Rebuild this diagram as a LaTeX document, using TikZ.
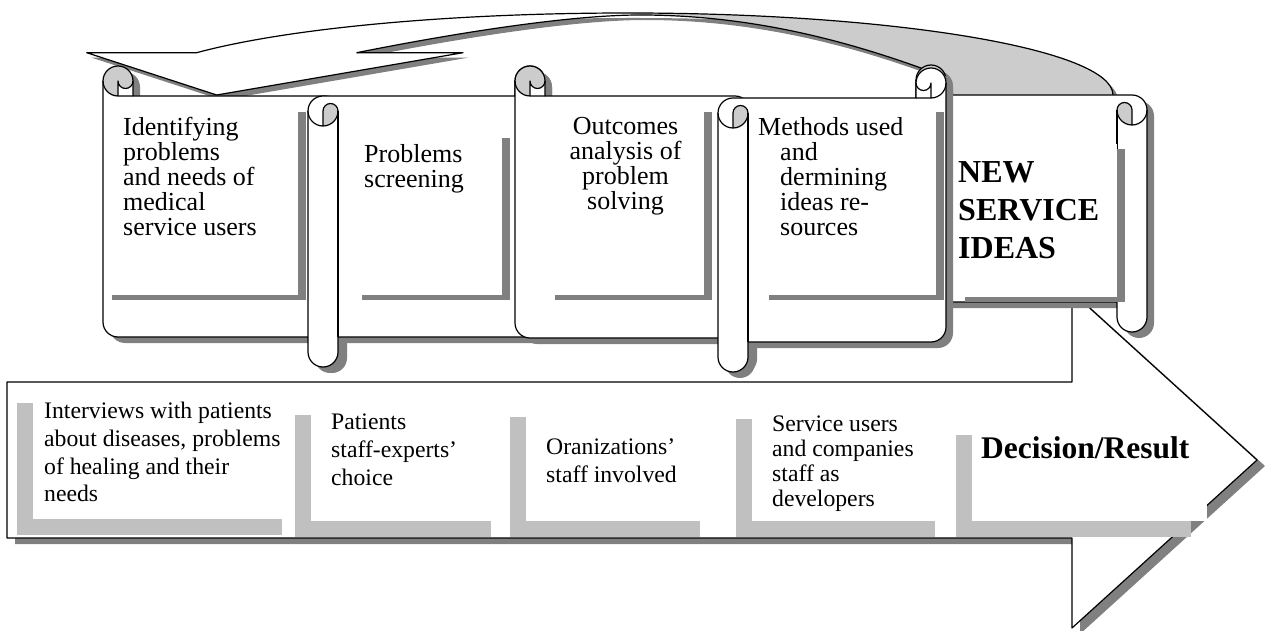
\documentclass[tikz,border=0pt]{standalone}
\usepackage{fontspec}
\setmainfont{Liberation Serif}

\definecolor{shadowgray}{HTML}{808080}
\definecolor{curlgray}{HTML}{CCCCCC}
\definecolor{panelgray}{HTML}{C0C0C0}

% outline of a horizontal scroll in local units, the long roll on the left
\newcommand{\scrollpath}{(0,45) arc[start angle=180, end angle=270, radius=15]
  -- (\rsw-30,30) -- (\rsw-30,15) arc[start angle=180, end angle=360, radius=15]
  -- (\rsw,\rsh-45) arc[start angle=0, end angle=90, radius=15]
  -- (30,\rsh-30) -- (30,\rsh-15) arc[start angle=0, end angle=180, radius=15] -- cycle}

% #1 = 1 or -1 (mirrored), #2 = x of the roll side, #3 = top, #4 = width, #5 = height, #6 = fill of top curl
\newcommand{\rollscroll}[6]{%
  \pgfmathsetmacro{\rsw}{#4}%
  \pgfmathsetmacro{\rsh}{#5}%
  \begin{scope}[shift={(#2,#3)}, xscale=#1]
    \fill[shadowgray, shift={(7*#1,6)}] \scrollpath;
    \fill[white] \scrollpath;
    %% top curl
    \fill[#6] (\rsw-15,30) arc[start angle=90, end angle=-180, radius=15]
      arc[start angle=180, end angle=0, radius=7.5] -- cycle;
    %% curl of the long roll
    \fill[curlgray] (15,60) arc[start angle=90, end angle=0, radius=15]
      arc[start angle=0, end angle=-180, radius=7.5] -- cycle;
    \draw[edge line] \scrollpath;
    \draw[edge line] (\rsw-30,30) -- (\rsw-15,30) arc[start angle=90, end angle=0, radius=15];
    \draw[edge line] (\rsw-15,30) -- (\rsw-15,15) arc[start angle=0, end angle=180, radius=7.5];
    \draw[edge line] (15,60) -- (15,45) arc[start angle=180, end angle=360, radius=7.5]
      arc[start angle=0, end angle=180, radius=15];
    \draw[edge line] (30,45) -- (30,\rsh-30);
  \end{scope}}

\begin{document}
\begin{tikzpicture}[x=1pt, y=1pt, yscale=-1,
  edge line/.style={draw=black, line width=1.2pt, line join=round},
  toptext/.style={inner sep=0pt, anchor=north west, align=left,
    font=\fontsize{26}{25}\selectfont},
  bottomtext/.style={inner sep=0pt, anchor=north west, align=left,
    font=\fontsize{23.7}{27.7}\selectfont}]
\useasboundingbox (0,0) rectangle (1271,631);

%%%%%%%%%%%%%%%% curved arrow going back

\fill[shadowgray, shift={(5,5)}] (216.7,95) -- (86.7,52.7) -- (196.7,52.7)
  arc[start angle=-148.95, end angle=-90, x radius=503.4, y radius=82]
  arc[start angle=-90, end angle=0, x radius=485, y radius=82]
  -- (940,95) -- (940,75) .. controls (860,45) and (760,15) .. (640,15)
  .. controls (560,15) and (430,38) .. (356.7,52.7) -- (463,52.7) -- cycle;
\fill[curlgray] (628,13) arc[start angle=-90, end angle=0, x radius=485, y radius=82]
  -- (940,95) -- (940,75) .. controls (860,45) and (760,15) .. (640,15) -- cycle;
\fill[white] (216.7,95) -- (86.7,52.7) -- (196.7,52.7)
  arc[start angle=-148.95, end angle=-90, x radius=503.4, y radius=82]
  -- (640,15) .. controls (560,15) and (430,38) .. (356.7,52.7) -- (463,52.7) -- cycle;
\draw[edge line] (216.7,95) -- (86.7,52.7) -- (196.7,52.7)
  arc[start angle=-148.95, end angle=-90, x radius=503.4, y radius=82]
  arc[start angle=-90, end angle=0, x radius=485, y radius=82];
\draw[edge line] (356.7,52.7) .. controls (430,38) and (560,15) .. (640,15)
  .. controls (760,15) and (860,45) .. (940,75);
\draw[edge line] (356.7,52.7) -- (463,52.7) -- (216.7,95);

%%%%%%%%%%%%%%%% big arrow

\fill[shadowgray, shift={(8,6)}] (7,382) -- (1072,382) -- (1072,292) -- (1257,460)
  -- (1072,628) -- (1072,538) -- (7,538) -- cycle;
\draw[edge line, fill=white] (7,382) -- (1072,382) -- (1072,292) -- (1257,460)
  -- (1072,628) -- (1072,538) -- (7,538) -- cycle;

%%%%%%%%%%%%%%%% scrolls

\rollscroll{-1}{340}{66}{237}{301}{curlgray}
\rollscroll{1}{308}{66}{237}{301}{white}
\rollscroll{-1}{750}{66}{235}{302}{curlgray}
\rollscroll{-1}{1147}{65}{231}{267}{curlgray}
\rollscroll{1}{718}{68}{228}{304}{white}

%% text boxes on the scrolls
\foreach \xa/\ya/\xb/\yb in {104/107/298/295, 354/133/502/295, 547/107/704/295,
    761/107/936/295, 957/144/1117/297} {
  \fill[shadowgray] (\xa+8,\ya+5) rectangle (\xb+8,\yb+5);
  \fill[white] (\xa,\ya) rectangle (\xb,\yb);
}

\node[toptext] (identify) at (123,117) {Identifying\\problems\\and needs of\\medical\\service users};
\node[toptext] (screening) at (364,144) {Problems\\screening};
\node[toptext, anchor=north, align=center] (outcomes) at (625.5,117) {Outcomes\\analysis of\\problem\\solving};
\node[toptext] (methods) at (758,117) {Methods used\\\hspace*{22pt}and\\\hspace*{22pt}dermining\\\hspace*{22pt}ideas re-\\\hspace*{22pt}sources};
\node[toptext, font=\bfseries\fontsize{32}{37.7}\selectfont] (ideas) at (958,161.5) {NEW\\SERVICE\\IDEAS};

%%%%%%%%%%%%%%%% stages along the arrow

\foreach \xa/\ya/\xb/\yb in {33/387/298/519, 311/399/507/520.5, 526/401/716/520.5,
    752/403/951/521, 972/419/1207/521} {
  \fill[panelgray] (\xa-16,\ya+16) rectangle (\xb-16,\yb+16);
  \fill[white] (\xa,\ya) rectangle (\xb,\yb);
}

\node[bottomtext] (interviews) at (44,402) {Interviews with patients\\about diseases, problems\\of healing and their\\needs};
\node[bottomtext] (choice) at (331,414) {Patients\\staff-experts'\\choice};
\node[bottomtext] (involved) at (546,439) {Oranizations'\\staff involved};
\node[bottomtext, font=\fontsize{23.7}{25}\selectfont] (developers) at (772,415.7) {Service users\\and companies\\staff as\\developers};
\node[inner sep=0pt, anchor=base west, font=\bfseries\fontsize{31.5}{36}\selectfont] (result) at (981,458.3) {Decision/Result};

\end{tikzpicture}
\end{document}
